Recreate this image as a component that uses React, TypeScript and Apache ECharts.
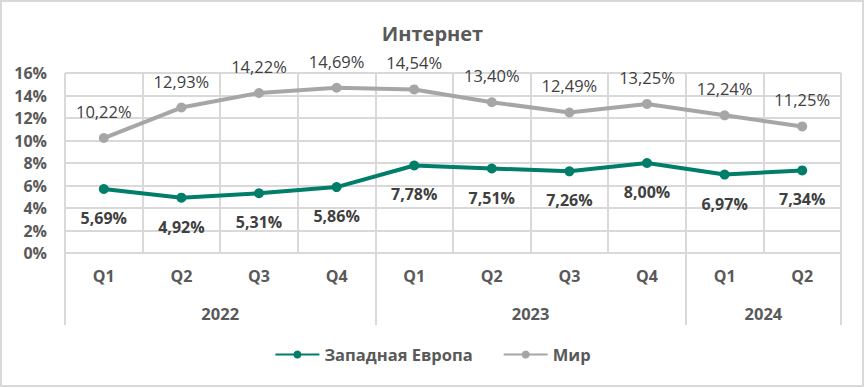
import React, { useEffect, useRef } from "react";
import * as echarts from "echarts";

const quarters = ["Q1", "Q2", "Q3", "Q4", "Q1", "Q2", "Q3", "Q4", "Q1", "Q2"];
const yearLabels = ["2022", "2023", "2024"];
const yearCenters = [2, 6, 9];
const yearBounds = [0, 4, 8, 10];
const westernEurope = [5.69, 4.92, 5.31, 5.86, 7.78, 7.51, 7.26, 8.0, 6.97, 7.34];
const world = [10.22, 12.93, 14.22, 14.69, 14.54, 13.4, 12.49, 13.25, 12.24, 11.25];

const FONT = "'Open Sans', 'Noto Sans', sans-serif";
const GRID = "#d9d9d9";
const TEXT = "#595959";

export default function App() {
  const ref = useRef<HTMLDivElement>(null);
  useEffect(() => {
    if (!ref.current) return;
    const chart = echarts.init(ref.current, undefined, { renderer: "svg" });
    const fmt = (p: any) => Number(p.value).toFixed(2).replace(".", ",") + "%";
    chart.setOption({
      animation: false,
      backgroundColor: "#ffffff",
      textStyle: { fontFamily: FONT },
      title: {
        text: "Интернет",
        left: "center",
        top: 18,
        textStyle: { fontFamily: FONT, fontSize: 20, fontWeight: "bold", color: TEXT },
      },
      legend: {
        bottom: 20,
        left: "center",
        itemWidth: 44,
        itemHeight: 10,
        itemGap: 30,
        textStyle: { fontFamily: FONT, fontSize: 16.5, fontWeight: "bold", color: TEXT },
        data: ["Западная Европа", "Мир"],
      },
      grid: { left: 65, right: 24, top: 73, bottom: 135, containLabel: false },
      xAxis: [
        {
          type: "category",
          data: quarters,
          boundaryGap: true,
          axisLine: { show: true, lineStyle: { color: GRID, width: 2 } },
          axisTick: { show: false },
          splitLine: { show: true, interval: 0, lineStyle: { color: GRID, width: 2 } },
          axisLabel: {
            interval: 0,
            margin: 15,
            fontFamily: FONT,
            fontSize: 16,
            fontWeight: "bold",
            color: TEXT,
          },
        },
        {
          type: "value",
          position: "bottom",
          min: 0,
          max: 10,
          interval: 1,
          axisLine: { show: false },
          splitLine: { show: false },
          axisTick: {
            show: true,
            customValues: yearBounds,
            length: 72,
            lineStyle: { color: GRID, width: 2 },
          },
          axisLabel: {
            show: true,
            customValues: yearCenters,
            margin: 52,
            fontFamily: FONT,
            fontSize: 16.5,
            fontWeight: "bold",
            color: TEXT,
            formatter: (v: number) => {
              const i = yearCenters.indexOf(Math.round(v));
              return i >= 0 ? yearLabels[i] : "";
            },
          },
        },
      ],
      yAxis: {
        type: "value",
        min: 0,
        max: 16,
        interval: 2,
        axisLine: { show: false },
        axisTick: { show: false },
        splitLine: { show: true, lineStyle: { color: GRID, width: 2 } },
        axisLabel: {
          margin: 18,
          fontFamily: FONT,
          fontSize: 16,
          fontWeight: "bold",
          color: TEXT,
          formatter: (v: number) => Math.round(v) + "%",
        },
      },
      series: [
        {
          name: "Западная Европа",
          type: "line",
          xAxisIndex: 0,
          data: westernEurope,
          color: "#007E69",
          lineStyle: { width: 4, color: "#007E69" },
          symbol: "circle",
          symbolSize: 10,
          itemStyle: { color: "#007E69" },
          label: {
            show: true,
            position: "bottom",
            distance: 16,
            fontFamily: FONT,
            fontSize: 16,
            fontWeight: "bold",
            color: "#404040",
            formatter: fmt,
          },
          z: 3,
        },
        {
          name: "Мир",
          type: "line",
          xAxisIndex: 0,
          data: world,
          color: "#A6A6A6",
          lineStyle: { width: 4, color: "#A6A6A6" },
          symbol: "circle",
          symbolSize: 10,
          itemStyle: { color: "#A6A6A6" },
          label: {
            show: true,
            position: "top",
            distance: 13,
            fontFamily: FONT,
            fontSize: 16.5,
            fontWeight: "normal",
            color: "#404040",
            formatter: fmt,
          },
          z: 2,
        },
      ],
      graphic: [
        {
          type: "rect",
          shape: { x: 1, y: 1, width: 862, height: 385 },
          style: { fill: "none", stroke: GRID, lineWidth: 2 },
          silent: true,
          z: 100,
        },
      ],
    });
    return () => chart.dispose();
  }, []);
  return (
    <div
      ref={ref}
      style={{ position: "absolute", left: 0, top: 0, width: 865, height: 388 }}
    />
  );
}
